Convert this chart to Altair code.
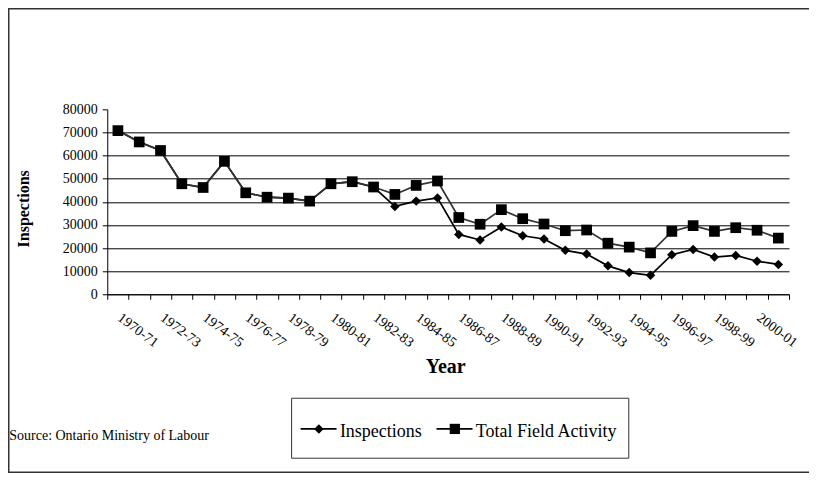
import altair as alt
import pandas as pd

YEARS = ["1970-71", "1971-72", "1972-73", "1973-74", "1974-75", "1975-76", "1976-77", "1977-78",
         "1978-79", "1979-80", "1980-81", "1981-82", "1982-83", "1983-84", "1984-85", "1985-86",
         "1986-87", "1987-88", "1988-89", "1989-90", "1990-91", "1991-92", "1992-93", "1993-94",
         "1994-95", "1995-96", "1996-97", "1997-98", "1998-99", "1999-00", "2000-01", "2001-02"]
LABELED = ["1970-71", "1972-73", "1974-75", "1976-77", "1978-79", "1980-81", "1982-83", "1984-85",
           "1986-87", "1988-89", "1990-91", "1992-93", "1994-95", "1996-97", "1998-99", "2000-01"]
SERIES = ["Inspections", "Total Field Activity"]
INSPECTIONS = [70800, 65900, 62200, 47800, 46200, 57500, 43900, 42000, 41600, 40300, 47800, 48700,
               46400, 38000, 40300, 41700, 25900, 23500, 29100, 25300, 23900, 19000, 17400, 12300,
               9400, 8200, 17100, 19400, 16100, 16800, 14300, 12900]
TOTAL = [70800, 65900, 62200, 47800, 46200, 57500, 43900, 42000, 41600, 40300, 47800, 48700,
         46400, 43200, 47100, 49000, 33200, 30300, 36600, 32700, 30400, 27500, 27800, 22100,
         20400, 17900, 27200, 29700, 27200, 28800, 27700, 24300]
Y_TICKS = [0, 10000, 20000, 30000, 40000, 50000, 60000, 70000, 80000]
SOURCE = "Source: Ontario Ministry of Labour"

rows = []
for name, vals in zip(SERIES, [INSPECTIONS, TOTAL]):
    for yr, v in zip(YEARS, vals):
        rows.append({"year": yr, "series": name, "value": v})
df = pd.DataFrame(rows)

FONT = "Liberation Serif"
W, H = 682, 185

label_list = "[" + ",".join("'%s'" % s for s in LABELED) + "]"

x_enc = alt.X(
    "year:N", sort=YEARS,
    scale=alt.Scale(type="band", paddingInner=0, paddingOuter=0),
    axis=alt.Axis(
        title="Year", titleFont=FONT, titleFontSize=20, titleFontWeight="bold", titleColor="black",
        titleX=338, titleY=78, titleAnchor="middle", titleAlign="center", titleBaseline="alphabetic",
        labelExpr="indexof(%s, datum.value) >= 0 ? datum.label : ''" % label_list,
        labelAngle=37, labelAlign="left", labelBaseline="top", labelPadding=11, labelOffset=5,
        labelFont=FONT, labelFontSize=14, labelColor="black", labelOverlap=False,
        tickBand="extent", tickSize=5, tickColor="black", domainColor="black",
        grid=False,
    ),
)
y_enc = alt.Y(
    "value:Q",
    scale=alt.Scale(domain=[0, 80000], nice=False),
    axis=alt.Axis(
        values=Y_TICKS, format="d",
        title="Inspections", titleFont=FONT, titleFontSize=16, titleFontWeight="bold",
        titleColor="black", titleX=-84, titleY=99, titleAngle=-90,
        titleAlign="center", titleBaseline="middle",
        labelFont=FONT, labelFontSize=14, labelColor="black", labelPadding=5,
        tickSize=5, tickColor="black", domainColor="black",
        grid=True, gridColor="black", gridWidth=1,
        gridOpacity={"condition": {"test": "datum.value >= 80000", "value": 0}, "value": 1},
    ),
)

base = alt.Chart(df)
lines = base.mark_line(strokeWidth=1.7).encode(
    x=x_enc, y=y_enc,
    color=alt.Color("series:N", scale=alt.Scale(domain=SERIES, range=["#000000", "#333333"]), legend=None),
)
points = base.mark_point(filled=True, opacity=1, color="black").encode(
    x=x_enc, y=y_enc,
    shape=alt.Shape("series:N", scale=alt.Scale(domain=SERIES, range=["diamond", "square"]), legend=None),
    size=alt.Size("series:N", scale=alt.Scale(domain=SERIES, range=[90, 115]), legend=None),
)

one = pd.DataFrame({"k": [0]})

# Outer frame (decoration): thin filled bars for the left, top and bottom edges,
# running past the right edge of the drawing like the reference's frame
def bar(x1, x2, y1, y2):
    return alt.Chart(one).mark_rect(color="#333", strokeWidth=0).encode(
        x=alt.value(x1), x2=alt.value(x2), y=alt.value(y1), y2=alt.value(y2))

frame = [
    bar(-99.3, -97.8, -101.3, 363.7),
    bar(-99.3, 760, -101.3, -99.8),
    bar(-99.3, 760, 362.2, 363.7),
]

source = alt.Chart(one).mark_text(
    text=SOURCE, font=FONT, fontSize=14, align="left", baseline="alphabetic", color="black"
).encode(x=alt.value(-98), y=alt.value(330.7))

# Legend (decoration)
leg_box = alt.Chart(one).mark_rect(fillOpacity=0, stroke="#333", strokeWidth=1).encode(
    x=alt.value(184.4), x2=alt.value(521.7), y=alt.value(289), y2=alt.value(349))
leg_layers = [leg_box]
for i, (name, shp, sz) in enumerate(zip(SERIES, ["diamond", "square"], [90, 105])):
    x0 = 193.4 + i * 136.0
    leg_layers.append(alt.Chart(one).mark_rule(color="black", strokeWidth=1.7).encode(
        x=alt.value(x0), x2=alt.value(x0 + 36), y=alt.value(319.7), y2=alt.value(319.7)))
    leg_layers.append(alt.Chart(one).mark_point(filled=True, opacity=1, color="black", shape=shp, size=sz).encode(
        x=alt.value(x0 + 18.3), y=alt.value(319.7)))
    leg_layers.append(alt.Chart(one).mark_text(
        text=name, font=FONT, fontSize=18, align="left", baseline="alphabetic", color="black"
    ).encode(x=alt.value(x0 + 39.3), y=alt.value(327.4)))

chart = alt.layer(
    *frame, lines, points, source, *leg_layers
).properties(
    width=W, height=H,
    autosize=alt.AutoSizeParams(type="none"),
    padding={"left": 99.3, "top": 101.3, "right": 20, "bottom": 179},
    background="white",
).configure_view(stroke=None)

chart.save("out.html", embed_options={"renderer": "svg", "actions": False})
